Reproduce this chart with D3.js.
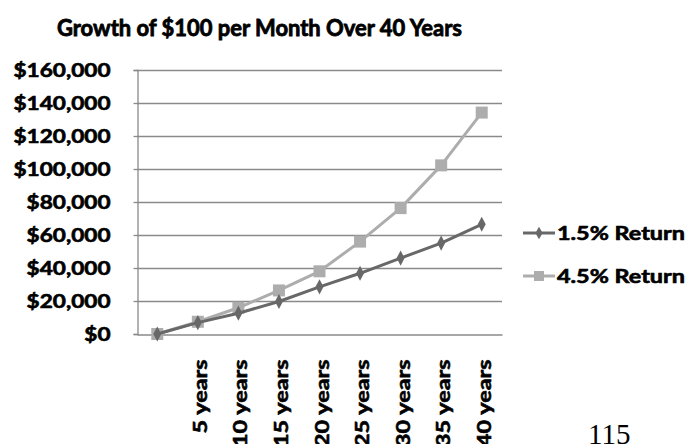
<!DOCTYPE html>
<html>
<head>
<meta charset="utf-8">
<script src="https://cdn.jsdelivr.net/npm/d3@7"></script>
<style>
  html, body { margin: 0; padding: 0; background: #fff; }
  svg { display: block; }
  text.lbl { font-family: Lato, "Open Sans", sans-serif; font-weight: bold; fill: #000;
             stroke: #000; stroke-width: 0.6px; paint-order: stroke; }
  text.page { font-family: "Liberation Serif", "Times New Roman", serif; font-weight: normal; fill: #000; }
</style>
</head>
<body>
<svg id="chart" width="700" height="444"></svg>
<script>
// Categories along the x axis (the first one is the starting point, unlabelled)
const categories = ["", "5 years", "10 years", "15 years", "20 years", "25 years", "30 years", "35 years", "40 years"];
// Account balance for $100 deposited every month
const lowReturn  = [0, 6900, 12600, 19700, 28600, 36800, 46000, 55100, 66500];
const highReturn = [0, 7400, 15900, 26400, 38000, 56000, 76300, 102200, 134200];
const seriesNames = ["1.5% Return", "4.5% Return"];
const yTicks = [0, 20000, 40000, 60000, 80000, 100000, 120000, 140000, 160000];
const titleText = "Growth of $100 per Month Over 40 Years";
const pageNumber = "115";

const svg = d3.select("#chart");
const plot = { left: 137, right: 502, top: 70, bottom: 334 };

const x = d3.scaleBand().domain(categories.map((c, i) => i)).range([plot.left, plot.right]);
const y = d3.scaleLinear().domain([0, 160000]).range([plot.bottom, plot.top]);
const fmt = v => "$" + d3.format(",")(v);

// Stretch a text element horizontally to a target width
function fitWidth(sel, factor) {
  sel.each(function () {
    const w = this.getComputedTextLength();
    d3.select(this).attr("textLength", w * factor).attr("lengthAdjust", "spacingAndGlyphs");
  });
}

// Title
const title = svg.append("text").attr("class", "lbl")
  .attr("x", 259.5).attr("y", 36)
  .attr("text-anchor", "middle")
  .attr("font-size", 22)
  .style("stroke-width", "0.8px")
  .text(titleText);
fitWidth(title, 405 / title.node().getComputedTextLength());

// Horizontal gridlines
svg.append("g").selectAll("line").data(yTicks.slice(1)).join("line")
  .attr("x1", plot.left).attr("x2", plot.right)
  .attr("y1", d => Math.round(y(d)) + 0.5).attr("y2", d => Math.round(y(d)) + 0.5)
  .attr("stroke", "#8a8a8a").attr("stroke-width", 1.3);

// Y axis
const yAxis = svg.append("g")
  .attr("transform", `translate(${plot.left + 0.5},0)`)
  .call(d3.axisLeft(y).tickValues(yTicks).tickFormat(fmt).tickSize(4).tickPadding(23));
yAxis.select(".domain").attr("stroke", "#8a8a8a").attr("stroke-width", 1.3);
yAxis.selectAll(".tick line").attr("stroke", "#8a8a8a").attr("stroke-width", 1.3);
yAxis.selectAll(".tick text")
  .attr("class", "lbl")
  .attr("font-size", 18.5).attr("font-family", null)
  .attr("dy", "0.36em");
{
  const ref = yAxis.selectAll(".tick text").filter(d => d === 160000).node();
  const factor = 97 / ref.getComputedTextLength();
  fitWidth(yAxis.selectAll(".tick text"), factor);
}

// X axis: labels rotated to read upward, hanging below the plot
const xAxis = svg.append("g")
  .attr("transform", `translate(0,${plot.bottom + 0.5})`)
  .call(d3.axisBottom(x).tickFormat(i => categories[i]).tickSize(0).tickPadding(0));
xAxis.select(".domain").attr("stroke", "#8a8a8a").attr("stroke-width", 1.3);
xAxis.selectAll(".tick text")
  .attr("class", "lbl")
  .attr("font-size", 19).attr("font-family", null)
  .attr("text-anchor", "end")
  .attr("x", 0).attr("y", 0).attr("dy", 0);
{
  const ref = xAxis.selectAll(".tick text").filter(i => i === 1).node();
  const sx = 74 / ref.getComputedTextLength();
  xAxis.selectAll(".tick text").attr("transform", `translate(9,25) rotate(-90) scale(${sx},1)`);
}

// Series
const line = d3.line().x((d, i) => x(i) + x.bandwidth() / 2).y(d => y(d));
const colors = ["#686868", "#adadad"];
const data = [lowReturn, highReturn];

// Higher-return series drawn first, lower-return series on top
[1, 0].forEach(s => {
  const g = svg.append("g");
  g.append("path").datum(data[s])
    .attr("d", line).attr("fill", "none")
    .attr("stroke", colors[s]).attr("stroke-width", 3).attr("stroke-linejoin", "round");
  if (s === 1) {
    g.selectAll("rect").data(data[s]).join("rect")
      .attr("x", (d, i) => x(i) + x.bandwidth() / 2 - 6)
      .attr("y", d => y(d) - 6)
      .attr("width", 12).attr("height", 12)
      .attr("fill", colors[s]);
  } else {
    g.selectAll("path.m").data(data[s]).join("path").attr("class", "m")
      .attr("d", d3.symbol(d3.symbolDiamond, 55))
      .attr("transform", (d, i) => `translate(${x(i) + x.bandwidth() / 2},${y(d)}) scale(1,1.1)`)
      .attr("fill", colors[s]);
  }
});

// Legend
const legendRows = [{ y: 233, s: 0 }, { y: 276, s: 1 }];
legendRows.forEach(r => {
  const g = svg.append("g");
  g.append("line").attr("x1", 523).attr("x2", 555).attr("y1", r.y).attr("y2", r.y)
    .attr("stroke", colors[r.s]).attr("stroke-width", 3);
  if (r.s === 1) {
    g.append("rect").attr("x", 539 - 5).attr("y", r.y - 5).attr("width", 10).attr("height", 10)
      .attr("fill", colors[r.s]);
  } else {
    g.append("path").attr("d", d3.symbol(d3.symbolDiamond, 45))
      .attr("transform", `translate(539,${r.y})`).attr("fill", colors[r.s]);
  }
  const t = g.append("text").attr("class", "lbl").attr("x", 557).attr("y", r.y + 6.5)
    .attr("font-size", 18.5).text(seriesNames[r.s]);
  fitWidth(t, 128 / t.node().getComputedTextLength());
});

// Page number
svg.append("text").attr("class", "page")
  .attr("x", 588).attr("y", 444)
  .attr("font-size", 29)
  .text(pageNumber);
</script>
</body>
</html>
